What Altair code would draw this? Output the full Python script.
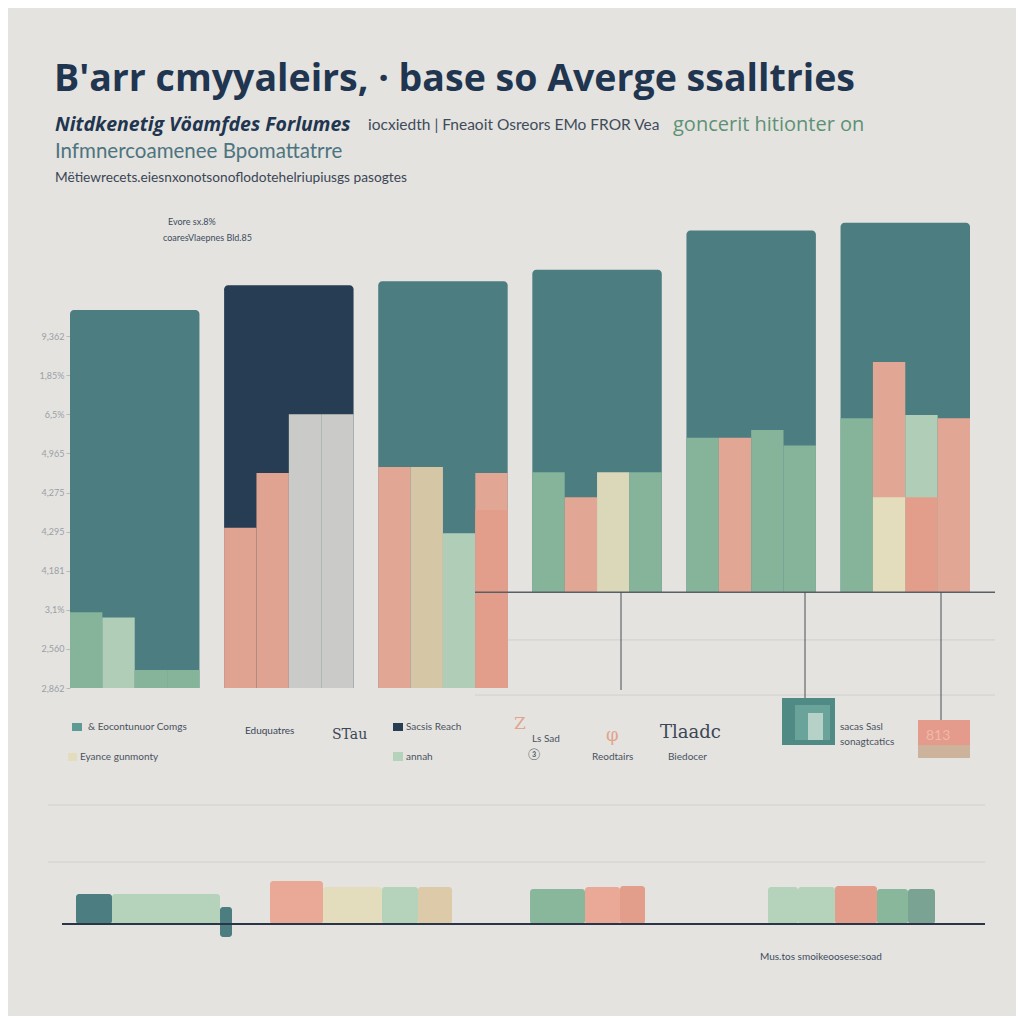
import altair as alt
import pandas as pd

# ---------------- data ----------------
groups = ["G1", "G2", "G3", "G4", "G5", "G6"]
back_values = [96.7, 103.0, 104.0, 107.0, 117.0, 119.0]
back_tones = ["teal", "navy", "teal", "teal", "teal", "teal"]
base_values = [0.0, 0.0, 0.0, 24.5, 24.5, 24.5]

slots = ["s1", "s2", "s3", "s4"]
slot_values = {
    "s1": [19.4, 41.0, 56.5, 55.2, 64.0, 69.0],
    "s2": [18.0, 55.0, 56.5, 48.8, 64.0, 83.4],
    "s3": [4.6, 70.0, 39.6, 55.2, 66.0, 69.8],
    "s4": [4.6, 70.0, 55.0, 55.2, 62.0, 69.0],
}
slot_tones = {
    "s1": ["green", "salmon", "salmon", "green", "green", "green"],
    "s2": ["mint", "salmon", "tan", "salmon", "salmon", "salmon"],
    "s3": ["green", "gray", "mint", "cream", "green", "mint"],
    "s4": ["green", "gray", "salmon", "green", "green", "salmon"],
}
front_groups = ["G3", "G6", "G6"]
front_slots = ["s4", "s2", "s3"]
front_values = [45.5, 48.8, 48.8]
front_tones = ["salmon2", "cream", "salmon2"]

tick_values = [0, 10, 20, 30, 40, 50, 60, 70, 80, 90]
tick_labels = ["2,862", "2,560", "3,1%", "4,181", "4,295", "4,275", "4,965", "6,5%", "1,85%", "9,362"]

bottom_widths = [28, 36, 108, 12, 38, 53, 59, 36, 34, 78, 55, 35, 25, 123, 30, 37, 42, 31, 27]
bottom_heights = [0, 30, 30, 30, 0, 43, 37, 37, 37, 0, 35, 37, 38, 0, 37, 37, 38, 35, 35]
bottom_bases = [0, 0, 0, -13, 0, 0, 0, 0, 0, 0, 0, 0, 0, 0, 0, 0, 0, 0, 0]
bottom_tones = ["none", "teal", "mint", "teal", "none", "salmon", "cream", "mint", "tan", "none",
                "green", "salmon", "salmon2", "none", "mint", "mint", "salmon2", "green", "tealgreen"]

title_text = "B'arr cmyyaleirs, · base so Averge ssalltries"
sub1a = "Nitdkenetig Vöamfdes Forlumes"
sub1b = "iocxiedth | Fneaoit Osreors EMo FROR Vea"
sub1c = "goncerit hitionter on"
sub2 = "Infmnercoamenee Bpomattatrre"
sub3 = "Mëtiewrecets.eiesnxonotsonoflodotehelriupiusgs pasogtes"
note1 = "Evore sx.8%"
note2 = "coaresVlaepnes Bld.85"
legend_labels = ["& Eocontunuor Comgs", "Eyance gunmonty", "Eduquatres", "STau", "Sacsis Reach",
                 "annah", "Ls Sad", "Reodtairs", "Tlaadc", "Biedocer", "sacas Sasl", "sonagtcatics"]
footnote = "Mus.tos smoikeoosese:soad"

# ---------------- styles ----------------
tone_domain = ["teal", "navy", "green", "salmon", "salmon2", "mint", "cream", "tan", "gray", "tealgreen", "none"]
tone_range = ["#4b7d81", "#263d54", "#88b79b", "#eaa996", "#e29e8b", "#b5d2bb", "#e3ddbd", "#dccaa8",
              "#d3d3cf", "#7aa393", "#e4e3df"]
color_scale = alt.Scale(domain=tone_domain, range=tone_range)
BG = "#e4e3df"
NAVY = "#1f3550"

# ---------------- frames ----------------
back_df = pd.DataFrame({"group": groups, "value": back_values, "tone": back_tones, "base": base_values})
rows = []
for s in slots:
    for g, v, t, b in zip(groups, slot_values[s], slot_tones[s], base_values):
        rows.append({"group": g, "slot": s, "value": v, "tone": t, "base": b})
slot_df = pd.DataFrame(rows)
base_map = dict(zip(groups, base_values))
front_df = pd.DataFrame({"group": front_groups, "slot": front_slots, "value": front_values,
                         "tone": front_tones, "base": [base_map[g] for g in front_groups]})

bdf = pd.DataFrame({"w": bottom_widths, "h": bottom_heights, "base": bottom_bases, "tone": bottom_tones})
bdf["end"] = bdf["w"].cumsum()
bdf["start"] = bdf["end"] - bdf["w"]
bdf["top"] = bdf["base"] + bdf["h"]
bdf = bdf[bdf["tone"] != "none"]

xs = alt.Scale(domain=groups, range=[62, 962], paddingInner=0.16, paddingOuter=0)
ys = alt.Scale(domain=[0, 120], range=[680, 210.8], nice=False, zero=False)
xo = alt.Scale(domain=slots, paddingInner=0, paddingOuter=0)

label_expr = "".join(f"datum.value == {t} ? '{l}' : " for t, l in zip(tick_values, tick_labels)) + "''"
y_axis = alt.Axis(values=tick_values, labelExpr=label_expr, offset=-62, domain=False, ticks=True,
                  tickSize=4, tickColor="#b9b9b5", labelColor="#9aa0a6", labelFontSize=9,
                  labelFont="Lato", grid=False, title=None, labelPadding=2)

one = pd.DataFrame({"a": [0]})

bg_layer = alt.Chart(back_df).mark_bar(cornerRadiusTopLeft=4, cornerRadiusTopRight=4).encode(
    x=alt.X("group:N", scale=xs, axis=None, sort=groups),
    y=alt.Y("value:Q", scale=ys, axis=y_axis),
    y2="base:Q",
    color=alt.Color("tone:N", scale=color_scale, legend=None),
)
slot_layer = alt.Chart(slot_df).mark_bar(opacity=0.95).encode(
    x=alt.X("group:N", scale=xs, axis=None, sort=groups),
    xOffset=alt.XOffset("slot:N", scale=xo, sort=slots),
    y=alt.Y("value:Q", scale=ys, axis=y_axis),
    y2="base:Q",
    color=alt.Color("tone:N", scale=color_scale, legend=None),
)
front_layer = alt.Chart(front_df).mark_bar().encode(
    x=alt.X("group:N", scale=xs, axis=None, sort=groups),
    xOffset=alt.XOffset("slot:N", scale=xo, sort=slots),
    y=alt.Y("value:Q", scale=ys, axis=y_axis),
    y2="base:Q",
    color=alt.Color("tone:N", scale=color_scale, legend=None),
)


def hrule(val, x1, x2, color, w):
    return alt.Chart(one).mark_rule(color=color, strokeWidth=w).encode(
        y=alt.Y("v:Q", scale=ys, axis=y_axis), x=alt.value(x1), x2=alt.value(x2)
    ).transform_calculate(v=str(val))


top = alt.layer(
    bg_layer,
    hrule(12.3, 467, 987, "#cfcfcb", 1),
    hrule(-1.8, 467, 987, "#cfcfcb", 1),
    slot_layer, front_layer,
    hrule(24.5, 467, 987, "#5a5f66", 1.5),
)

xb = alt.Scale(domain=[0, 937], range=[40, 977], nice=False, zero=False)
yb = alt.Scale(domain=[0, 134], range=[916, 782], nice=False, zero=False)


def bline(val, x1, x2, color, w):
    return alt.Chart(one).mark_rule(color=color, strokeWidth=w).encode(
        y=alt.Y("v:Q", scale=yb, axis=None),
        x=alt.X("x1:Q", scale=xb, axis=None), x2="x2:Q",
    ).transform_calculate(v=str(val), x1=str(x1), x2=str(x2))


bottom_bars = alt.Chart(bdf).mark_bar(cornerRadius=3).encode(
    x=alt.X("start:Q", scale=xb, axis=None), x2="end:Q",
    y=alt.Y("top:Q", scale=yb, axis=None), y2="base:Q",
    color=alt.Color("tone:N", scale=color_scale, legend=None),
)
bottom = alt.layer(
    bline(119, 0, 937, "#d0d0cc", 1),
    bline(62, 0, 937, "#d0d0cc", 1),
    bottom_bars,
    bline(0, 14, 937, "#2a3648", 2),
)


def txt(text, x, y, size, color, weight="normal", font="Lato", style="normal"):
    return alt.Chart(pd.DataFrame({"t": [text]})).mark_text(
        align="left", baseline="middle", fontSize=size, color=color, fontWeight=weight,
        font=font, fontStyle=style).encode(text="t:N", x=alt.value(x), y=alt.value(y))


def box(x1, x2, y1, y2, color, opacity=1.0):
    return alt.Chart(one).mark_rect(color=color, opacity=opacity).encode(
        x=alt.value(x1), x2=alt.value(x2), y=alt.value(y1), y2=alt.value(y2))


def vline(x, y1, y2):
    return alt.Chart(one).mark_rule(color="#4a4f57", strokeWidth=1).encode(
        x=alt.value(x), y=alt.value(y1), y2=alt.value(y2))


annotations = alt.layer(
    txt(title_text, 46, 72, 37.5, NAVY, "bold", font="Open Sans"),
    txt(sub1a, 47, 117, 19.5, NAVY, "bold", font="Open Sans", style="italic"),
    txt(sub1b, 360, 117, 15.5, "#3f4b5b"),
    txt(sub1c, 665, 117, 20, "#5e9175", font="Open Sans"),
    txt(sub2, 47, 144, 20.5, "#4d7480"),
    txt(sub3, 47, 170, 13.7, "#3b4656"),
    txt(note1, 160, 214, 9, "#3d4b60"),
    txt(note2, 155, 230, 9, "#3d4b60"),
    # legend row
    box(64, 74, 715, 723, "#5d9a94"),
    txt(legend_labels[0], 80, 719, 10, "#4a5260"),
    box(60, 69, 745, 753, "#e3ddbd"),
    txt(legend_labels[1], 72, 749, 10, "#4a5260"),
    txt(legend_labels[2], 237, 723, 10, "#3b4656"),
    txt(legend_labels[3], 324, 727, 14, "#3b4656", font="DejaVu Serif"),
    box(385, 395, 715, 723, "#263d54"),
    txt(legend_labels[4], 398, 719, 10, "#4a5260"),
    box(385, 395, 744, 753, "#b5d2bb"),
    txt(legend_labels[5], 398, 749, 10, "#4a5260"),
    txt("Z", 506, 716, 17, "#e2a48c", font="DejaVu Serif"),
    txt(legend_labels[6], 524, 731, 10, "#4a5260"),
    txt("③", 520, 747, 11, "#4a5260"),
    txt("φ", 598, 728, 18, "#e2a48c", font="DejaVu Serif"),
    txt(legend_labels[7], 584, 749, 10, "#4a5260"),
    txt(legend_labels[8], 652, 725, 18, "#3b4656", font="DejaVu Serif"),
    txt(legend_labels[9], 660, 749, 10, "#4a5260"),
    vline(613, 584, 682),
    vline(797, 584, 690),
    vline(933, 584, 712),
    box(774, 827, 690, 737, "#4f8a84"),
    box(787, 822, 697, 732, "#6aa39a"),
    box(800, 815, 705, 732, "#c9ddd3", 0.8),
    txt(legend_labels[10], 832, 719, 10, "#4a5260"),
    txt(legend_labels[11], 832, 734, 10, "#4a5260"),
    box(910, 962, 712, 750, "#e59b8b"),
    box(910, 962, 737, 750, "#c7b9a0", 0.8),
    txt("813", 918, 728, 14, "#f0b8aa"),
    txt(footnote, 752, 949, 10, "#3d4b60"),
)

chart = alt.layer(top, bottom, annotations).resolve_scale(
    x="independent", y="independent"
).properties(
    width=1008, height=1008,
    autosize=alt.AutoSizeParams(type="fit", contains="padding"),
    padding=0,
    background=BG,
).configure_view(stroke=None)

chart.save("out.html", embed_options={"renderer": "svg", "actions": False})
